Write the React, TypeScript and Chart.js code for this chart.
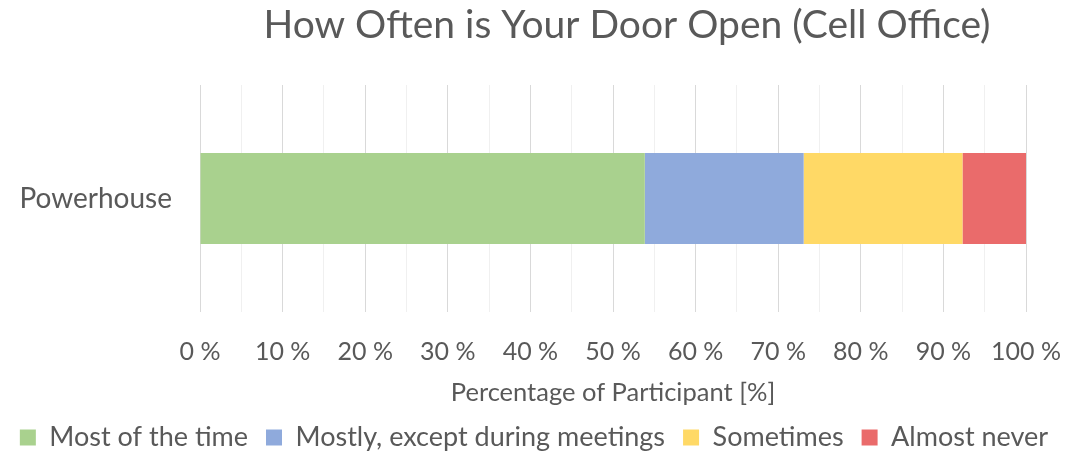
import React, { useEffect, useRef } from "react";
import { Chart, registerables } from "chart.js";

Chart.register(...registerables);

const categories = ["Powerhouse"];
const seriesNames = [
  "Most of the time",
  "Mostly, except during meetings",
  "Sometimes",
  "Almost never",
];
const mostOfTheTime = [53.85];
const mostlyExceptMeetings = [19.23];
const sometimes = [19.23];
const almostNever = [7.69];
const seriesColors = ["#A9D18E", "#8FAADC", "#FFD966", "#EA6B6B"];
const chartTitle = "How Often is Your Door Open (Cell Office)";
const xAxisTitle = "Percentage of Participant [%]";

const FONT = "Lato";
const TEXT = "#595959";

const titlePlugin = {
  id: "customTitle",
  afterDraw(chart: any) {
    const ctx = chart.ctx;
    ctx.save();
    ctx.font = `39px ${FONT}`;
    ctx.fillStyle = TEXT;
    ctx.textAlign = "center";
    ctx.textBaseline = "alphabetic";
    ctx.fillText(chartTitle, 627, 38);
    ctx.restore();
  },
};

export default function App() {
  const ref = useRef<HTMLCanvasElement | null>(null);
  useEffect(() => {
    if (!ref.current) return;
    const seriesData = [mostOfTheTime, mostlyExceptMeetings, sometimes, almostNever];
    const chart = new Chart(ref.current, {
      type: "bar",
      data: {
        labels: categories,
        datasets: seriesNames.map((name, i) => ({
          label: name,
          data: seriesData[i],
          backgroundColor: seriesColors[i],
          borderWidth: 0,
          categoryPercentage: 0.8,
          barPercentage: 0.5,
        })),
      },
      options: {
        indexAxis: "y",
        animation: false,
        responsive: false,
        maintainAspectRatio: false,
        layout: { padding: { top: 85, left: 0, right: 0, bottom: -6 } },
        plugins: {
          title: { display: false },
          tooltip: { enabled: false },
          legend: {
            position: "bottom",
            labels: {
              font: { family: FONT, size: 27 },
              color: TEXT,
              boxWidth: 16,
              boxHeight: 16,
              padding: 18,
            },
          },
        },
        scales: {
          x: {
            stacked: true,
            min: 0,
            max: 100,
            border: { display: false },
            afterFit: (s: any) => {
              s.height = 94;
              s.paddingLeft = 0;
              s.paddingRight = 42;
            },
            grid: {
              drawTicks: false,
              color: (c: any) => (c.tick && c.tick.value % 10 === 0 ? "#D9D9D9" : "#F0F0F0"),
            },
            ticks: {
              stepSize: 5,
              autoSkip: false,
              maxRotation: 0,
              padding: 25,
              color: TEXT,
              font: { family: FONT, size: 25 },
              callback: (v: any) => (Number(v) % 10 === 0 ? `${v} %` : ""),
            },
            title: {
              display: true,
              text: xAxisTitle,
              color: TEXT,
              font: { family: FONT, size: 25.5 },
              padding: { top: 4, bottom: -2 },
            },
          },
          y: {
            stacked: true,
            border: { display: false },
            afterFit: (s: any) => {
              s.width = 200;
            },
            grid: { display: false, drawTicks: false },
            ticks: {
              padding: 28,
              color: TEXT,
              font: { family: FONT, size: 28 },
            },
          },
        },
      },
      plugins: [titlePlugin],
    });
    return () => chart.destroy();
  }, []);
  return (
    <div style={{ position: "absolute", left: 0, top: 0, width: 1068, height: 455 }}>
      <canvas ref={ref} width={1068} height={455} />
    </div>
  );
}
